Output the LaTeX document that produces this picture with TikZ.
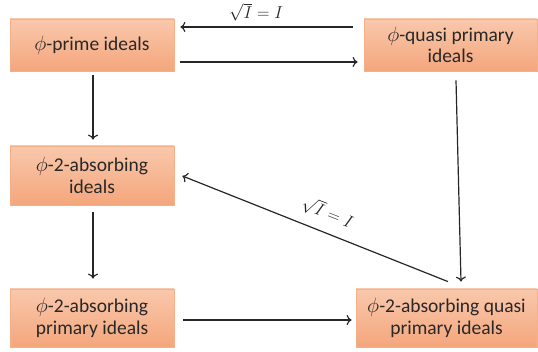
\documentclass[tikz,border=0pt]{standalone}
\usepackage{fontspec}
\setmainfont{Carlito}
\usetikzlibrary{arrows.meta,calc}
\definecolor{boxtop}{RGB}{249,200,172}
\definecolor{boxbot}{RGB}{244,166,124}
\definecolor{boxline}{RGB}{246,176,136}
\definecolor{txt}{RGB}{40,40,40}
\tikzset{
  ibox/.style={rectangle, draw=boxline, line width=0.8pt, top color=boxtop, bottom color=boxbot,
    text=txt, align=center, inner sep=0pt,
    font=\fontsize{19.5}{21.5}\selectfont},
  arr/.style={-{To[length=5pt,width=10pt]}, line width=1.2pt, black!85},
  rlabel/.style={font=\fontsize{16.5}{18}\selectfont, inner sep=0.5pt}
}
\begin{document}
\begin{tikzpicture}[x=1pt,y=-1pt]
\useasboundingbox (0,0) rectangle (538,352);
\node[ibox, minimum width=164pt, minimum height=52pt] (A) at (92,45) {$\phi$-prime ideals};
\node[ibox, minimum width=173pt, minimum height=52pt] (B) at (450.5,45) {$\phi$-quasi primary\\ideals};
\node[ibox, minimum width=164pt, minimum height=59pt] (C) at (92,175.5) {$\phi$-2-absorbing\\ideals};
\node[ibox, minimum width=164pt, minimum height=58pt] (D) at (92,318) {$\phi$-2-absorbing\\primary ideals};
\node[ibox, minimum width=181pt, minimum height=58pt] (E) at (446.5,318) {$\phi$-2-absorbing quasi\\primary ideals};

\draw[arr] ($(B.west)+(-11,-18)$) -- node[rlabel, pos=0.56, anchor=base, yshift=8pt] {$\sqrt{I}=I$} ($(A.east)+(6,-18)$);
\draw[arr] ($(A.east)+(6,17)$) -- ($(B.west)+(-6,17)$);
\draw[arr] ($(A.south)+(1,4)$) -- ($(C.north)+(1,-6)$);
\draw[arr] ($(C.south)+(1,7)$) -- ($(D.north)+(1,-10)$);
\draw[arr] ($(D.east)+(9,2)$) -- ($(E.west)+(-4,2)$);
\draw[arr] ($(B.south)+(5.5,9)$) -- ($(E.north)+(14.5,-7)$);
\draw[arr, {To[length=5pt,width=10pt]}-] ($(C.east)+(8,0.5)$) -- node[rlabel, sloped, above=10pt, pos=0.52] {$\sqrt{I}=I$} ($(E.north)+(1.5,-7)$);
\end{tikzpicture}
\end{document}
